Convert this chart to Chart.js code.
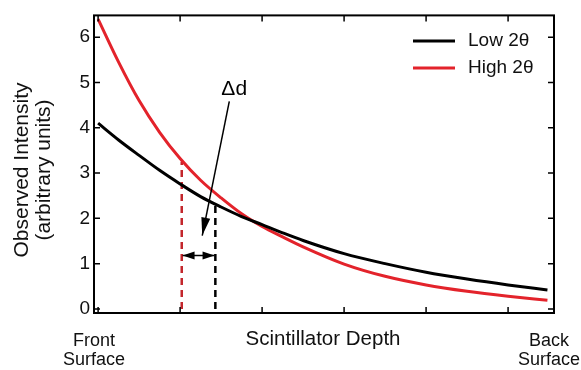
<!DOCTYPE html>
<html>
<head>
<meta charset="utf-8">
<script src="https://cdn.jsdelivr.net/npm/chart.js@4/dist/chart.umd.min.js"></script>
<style>
  html, body { margin: 0; padding: 0; background: #fff; }
  #wrap { width: 581px; height: 370px; }
</style>
</head>
<body>
<div id="wrap"><canvas id="chart" width="581" height="370"></canvas></div>
<script>
// depth positions (arbitrary units, front -> back) and intensities
const depth     = [0, 0.25, 0.5, 0.75, 1, 1.25, 1.5, 1.75, 2, 2.25, 2.5, 3, 3.5, 4, 4.5, 5, 5.48];
const lowTheta  = [4.10, 3.73, 3.39, 3.06, 2.76, 2.48, 2.25, 2.04, 1.86, 1.68, 1.51, 1.22, 1.00, 0.81, 0.66, 0.53, 0.42];
const highTheta = [6.40, 5.45, 4.60, 3.90, 3.32, 2.84, 2.45, 2.10, 1.82, 1.59, 1.37, 0.99, 0.72, 0.53, 0.39, 0.28, 0.19];
const yTicks = [0, 1, 2, 3, 4, 5, 6];

// marker lines for the depth shift
const redMarker   = { x: 1.02, top: 3.25 };
const blackMarker = { x: 1.43, top: 2.28 };
const deltaArrow  = { from: [1.60, 4.58], to: [1.27, 1.62], label: [1.66, 4.86] };
const shiftArrow  = { y: 1.18, x0: 1.03, x1: 1.42 };

const font = '"Liberation Sans", Arial, sans-serif';

function toPts(xs, ys) {
  return xs.map((x, i) => ({ x: x, y: ys[i] }));
}

function arrowHead(ctx, x0, y0, x1, y1, len, wid) {
  const a = Math.atan2(y1 - y0, x1 - x0);
  ctx.beginPath();
  ctx.moveTo(x1, y1);
  ctx.lineTo(x1 - len * Math.cos(a) + wid / 2 * Math.sin(a), y1 - len * Math.sin(a) - wid / 2 * Math.cos(a));
  ctx.lineTo(x1 - len * Math.cos(a) - wid / 2 * Math.sin(a), y1 - len * Math.sin(a) + wid / 2 * Math.cos(a));
  ctx.closePath();
  ctx.fill();
}

const decor = {
  id: 'decor',
  afterDraw(chart) {
    const ctx = chart.ctx;
    const a = chart.chartArea;
    const xs = chart.scales.x, ys = chart.scales.y;
    ctx.save();

    // frame
    ctx.strokeStyle = '#000';
    ctx.lineWidth = 2;
    ctx.strokeRect(a.left, a.top, a.right - a.left, a.bottom - a.top);

    // inward ticks on all four sides
    ctx.lineWidth = 1.5;
    ctx.beginPath();
    xs.ticks.forEach(t => {
      const px = xs.getPixelForValue(t.value);
      ctx.moveTo(px, a.bottom); ctx.lineTo(px, a.bottom - 6);
      ctx.moveTo(px, a.top); ctx.lineTo(px, a.top + 6);
    });
    ys.ticks.forEach(t => {
      const py = ys.getPixelForValue(t.value);
      ctx.moveTo(a.left, py); ctx.lineTo(a.left + 6, py);
      ctx.moveTo(a.right, py); ctx.lineTo(a.right - 6, py);
    });
    ctx.stroke();

    // delta-d arrow
    const fx = xs.getPixelForValue(deltaArrow.from[0]), fy = ys.getPixelForValue(deltaArrow.from[1]);
    const tx = xs.getPixelForValue(deltaArrow.to[0]), ty = ys.getPixelForValue(deltaArrow.to[1]);
    ctx.fillStyle = '#000';
    ctx.lineWidth = 1.5;
    ctx.beginPath(); ctx.moveTo(fx, fy); ctx.lineTo(tx, ty); ctx.stroke();
    arrowHead(ctx, fx, fy, tx, ty, 18, 9);

    ctx.font = '21px ' + font;
    ctx.textAlign = 'center';
    ctx.textBaseline = 'middle';
    ctx.fillText('\u0394d', xs.getPixelForValue(deltaArrow.label[0]), ys.getPixelForValue(deltaArrow.label[1]));

    // double headed shift arrow
    const sy = ys.getPixelForValue(shiftArrow.y);
    const sx0 = xs.getPixelForValue(shiftArrow.x0), sx1 = xs.getPixelForValue(shiftArrow.x1);
    const mid = (sx0 + sx1) / 2;
    ctx.beginPath(); ctx.moveTo(sx0, sy); ctx.lineTo(sx1, sy); ctx.stroke();
    arrowHead(ctx, mid, sy, sx0, sy, 12, 8);
    arrowHead(ctx, mid, sy, sx1, sy, 12, 8);

    // legend
    ctx.lineWidth = 3;
    ctx.textAlign = 'left';
    ctx.font = '19px ' + font;
    [['Low 2\u03b8', '#000', 41], ['High 2\u03b8', '#e3232b', 68]].forEach(([txt, col, y]) => {
      ctx.strokeStyle = col;
      ctx.beginPath(); ctx.moveTo(413, y); ctx.lineTo(455, y); ctx.stroke();
      ctx.fillStyle = '#111';
      ctx.fillText(txt, 468, y);
    });

    // axis titles and end labels
    ctx.fillStyle = '#111';
    ctx.font = '20.5px ' + font;
    ctx.textAlign = 'center';
    ctx.fillText('Scintillator Depth', 323, 339);
    ctx.font = '18px ' + font;
    ctx.fillText('Front', 94, 341);
    ctx.fillText('Surface', 94, 360);
    ctx.fillText('Back', 549, 341);
    ctx.fillText('Surface', 549, 360);

    ctx.font = '21px ' + font;
    ctx.save();
    ctx.translate(22, 170);
    ctx.rotate(-Math.PI / 2);
    ctx.fillText('Observed Intensity', 0, 0);
    ctx.restore();
    ctx.save();
    ctx.translate(44, 170);
    ctx.rotate(-Math.PI / 2);
    ctx.fillText('(arbitrary units)', 0, 0);
    ctx.restore();

    ctx.restore();
  }
};

new Chart(document.getElementById('chart'), {
  type: 'line',
  data: {
    datasets: [
      {
        label: 'Low 2\u03b8',
        data: toPts(depth, lowTheta),
        borderColor: '#000',
        borderWidth: 3,
        pointRadius: 0,
        cubicInterpolationMode: 'monotone'
      },
      {
        label: 'High 2\u03b8',
        data: toPts(depth, highTheta),
        borderColor: '#e3232b',
        borderWidth: 3,
        pointRadius: 0,
        cubicInterpolationMode: 'monotone'
      },
      {
        label: 'red marker',
        data: [{ x: redMarker.x, y: 0 }, { x: redMarker.x, y: redMarker.top }],
        borderColor: '#c3262c',
        borderWidth: 2.5,
        borderDash: [7, 5],
        pointRadius: 0
      },
      {
        label: 'black marker',
        data: [{ x: blackMarker.x, y: 0 }, { x: blackMarker.x, y: blackMarker.top }],
        borderColor: '#000',
        borderWidth: 2.5,
        borderDash: [7, 5],
        pointRadius: 0
      }
    ]
  },
  options: {
    responsive: false,
    animation: false,
    layout: { padding: { top: 13, right: 27, left: 0, bottom: 0 } },
    plugins: {
      legend: { display: false },
      tooltip: { enabled: false }
    },
    scales: {
      x: {
        type: 'linear',
        min: -0.05,
        max: 5.56,
        ticks: { display: false, stepSize: 1, includeBounds: false },
        grid: { display: false, drawTicks: false },
        border: { display: false },
        afterFit(scale) { scale.height = 57; }
      },
      y: {
        min: -0.09,
        max: 6.48,
        afterBuildTicks(scale) { scale.ticks = yTicks.map(v => ({ value: v })); },
        ticks: {
          color: '#111',
          padding: 4,
          font: { family: font, size: 19 }
        },
        grid: { display: false, drawTicks: false },
        border: { display: false },
        afterFit(scale) { scale.width = 94; }
      }
    }
  },
  plugins: [decor]
});
</script>
</body>
</html>
